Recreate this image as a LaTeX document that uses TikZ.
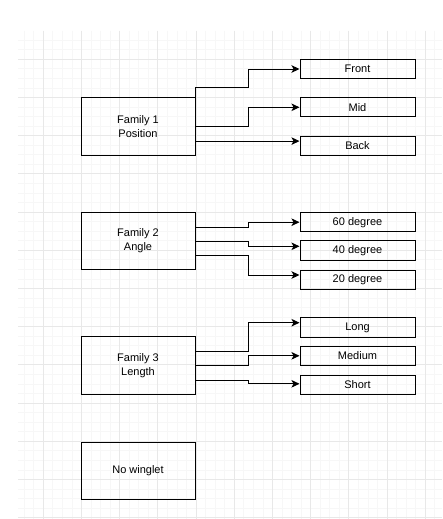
\documentclass[tikz,border=0pt]{standalone}
\usepackage{fontspec}
\setmainfont{Liberation Sans}
\usetikzlibrary{arrows.meta}
\tikzset{
family/.style={draw=black, line width=1pt, minimum width=114pt, minimum height=57.3pt, inner sep=0pt, align=center, font=\fontsize{11}{14}\selectfont},
leaf/.style={draw=black, line width=1pt, minimum width=115pt, minimum height=19.2pt, inner sep=0pt, font=\fontsize{11}{14}\selectfont},
link/.style={draw=black, line width=1pt, -{Stealth[length=8pt,width=7.5pt,inset=2pt]}},
}
\begin{document}
\begin{tikzpicture}[x=1pt,y=-1pt]
\useasboundingbox (0,0) rectangle (442,519);
\fill[white] (0,0) rectangle (442,519);
\begin{scope}
\clip (18,31) rectangle (442,519);
\foreach \j in {2,...,45} \draw[gray!6, line width=0.9pt] ({5.1+9.55*\j},31) -- ({5.1+9.55*\j},519);
\foreach \j in {2,...,52} \draw[gray!6, line width=0.9pt] (18,{21.1+9.55*\j}) -- (442,{21.1+9.55*\j});
\foreach \k in {1,...,11} \draw[gray!18, line width=1pt] ({5.1+38.2*\k},31) -- ({5.1+38.2*\k},519);
\foreach \k in {1,...,13} \draw[gray!18, line width=1pt] (18,{21.1+38.2*\k}) -- (442,{21.1+38.2*\k});
\end{scope}
\node[family] (f1) at (138,126.6) {Family 1\\Position};
\node[family] (f2) at (138,241) {Family 2\\Angle};
\node[family] (f3) at (138,365.6) {Family 3\\Length};
\node[family] (nowing) at (138,471) {No winglet};
\node[leaf] (front) at (357.5,69) {Front};
\node[leaf] (mid) at (357.5,107.3) {Mid};
\node[leaf] (back) at (357.5,145.7) {Back};
\node[leaf] (sixty) at (357.5,222.2) {60 degree};
\node[leaf] (forty) at (357.5,250.5) {40 degree};
\node[leaf] (twenty) at (357.5,279.8) {20 degree};
\node[leaf] (long) at (357.5,327.5) {Long};
\node[leaf] (medium) at (357.5,355.8) {Medium};
\node[leaf] (short) at (357.5,384.8) {Short};
\draw[link] (f1.north east) -- ++(0,-10) -- ++(52.5,0) |- (front.west);
\draw[link] (f1.east) -- ++(52.5,0) |- (mid.west);
\draw[link] ([yshift=-14.5pt]f1.east) -- ([yshift=-14.5pt]f1.east -| back.west);
\draw[link] ([yshift=14pt]f2.east) -- ++(53,0) |- (sixty.west);
\draw[link] (f2.east) -- ++(53,0) |- ([yshift=4.2pt]forty.west);
\draw[link] ([yshift=-14.7pt]f2.east) -- ++(53,0) |- ([yshift=4.8pt]twenty.west);
\draw[link] ([yshift=14.3pt]f3.east) -- ++(53,0) |- ([yshift=4.8pt]long.west);
\draw[link] (f3.east) -- ++(53,0) |- (medium.west);
\draw[link] ([yshift=-14.7pt]f3.east) -- ++(53,0) |- ([yshift=1pt]short.west);
\end{tikzpicture}
\end{document}
